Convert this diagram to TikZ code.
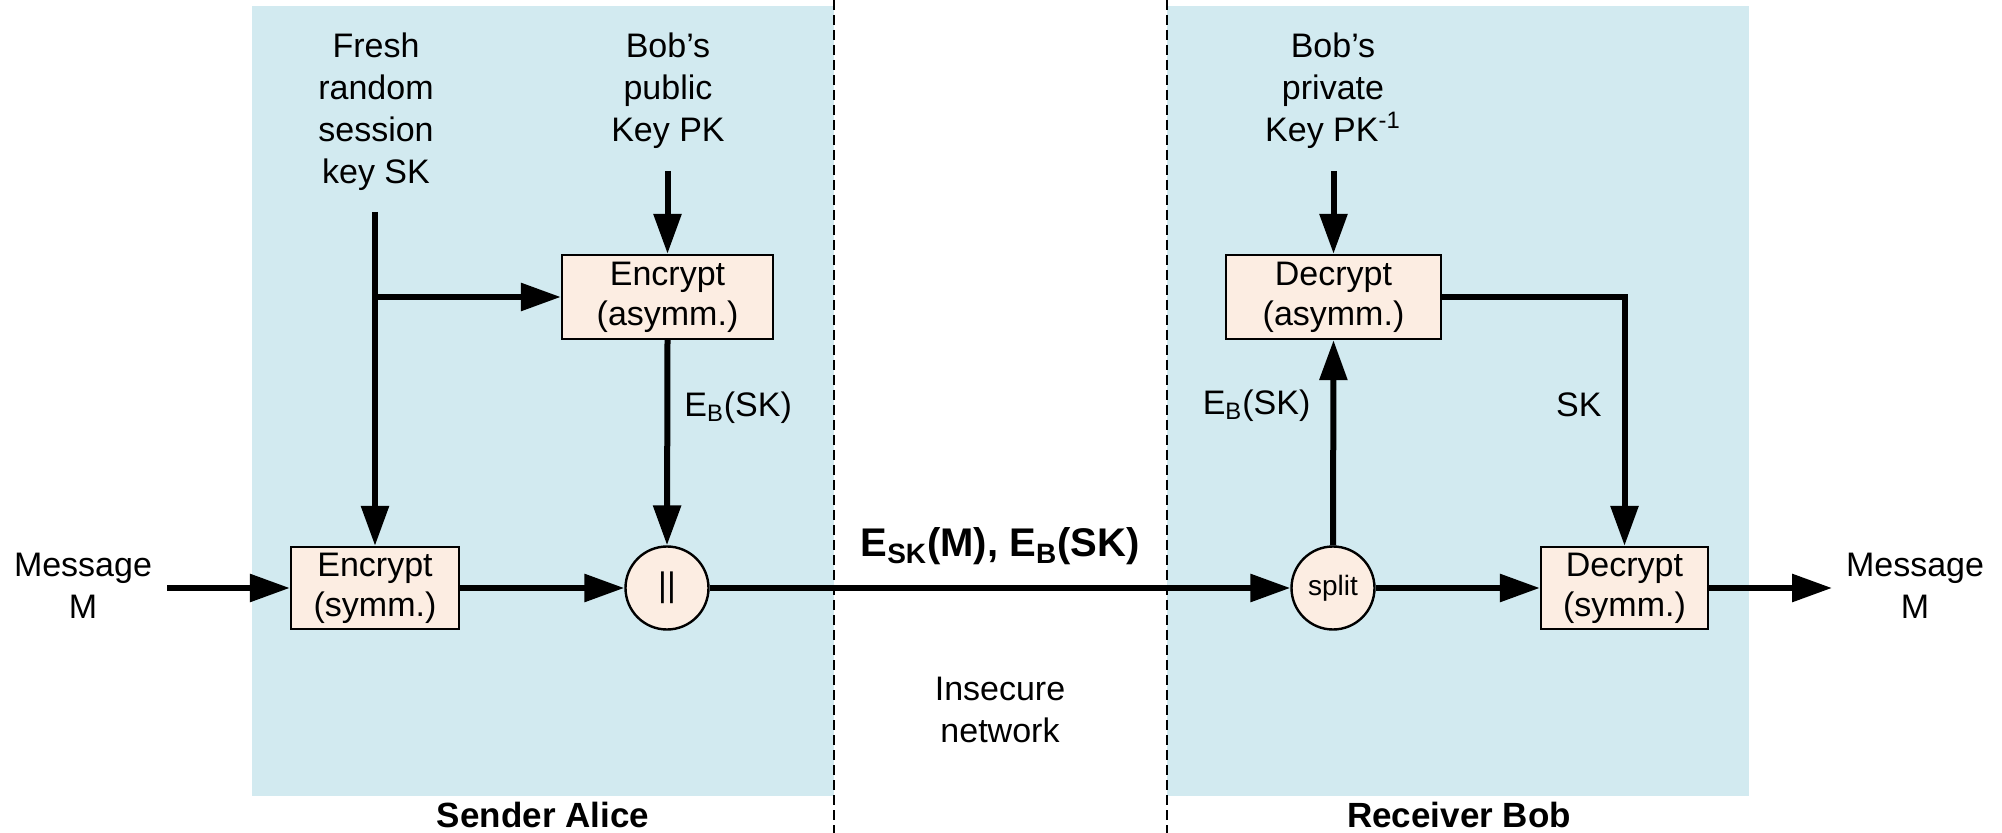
\documentclass[tikz,border=0pt]{standalone}
\usepackage{fontspec}
\setmainfont{Liberation Sans}
\usetikzlibrary{arrows.meta}
\definecolor{bgblue}{RGB}{210,234,240}
\definecolor{boxfill}{RGB}{252,237,226}
\begin{document}
\begin{tikzpicture}[x=0.5pt,y=-0.5pt,
  lbl/.style={font=\fontsize{17}{21}\selectfont, align=center, inner sep=0pt},
  boldlbl/.style={font=\bfseries\fontsize{17.5}{21}\selectfont, inner sep=0pt},
  proc/.style={draw, line width=1.2pt, fill=boxfill, inner sep=0pt, align=center,
    font=\fontsize{17}{20}\selectfont},
  op/.style={draw, line width=1.2pt, fill=boxfill, circle, inner sep=0pt, minimum size=41.5pt,
    font=\fontsize{17}{20}\selectfont},
  conn/.style={line width=3pt, -{Triangle[length=20pt,width=13.5pt]}},
  divider/.style={line width=1pt, dash pattern=on 5pt off 2.5pt}]
\useasboundingbox (0,0) rectangle (2002,833);
% backgrounds
\fill[bgblue] (252,6) rectangle (834,796);
\fill[bgblue] (1167,6) rectangle (1749,796);
\draw[divider] (834,0) -- (834,833);
\draw[divider] (1167,0) -- (1167,833);

% text labels
\node[lbl, anchor=north] (fresh) at (376,32) {Fresh\\random\\session\\key SK};
\node[lbl, anchor=north] (pub) at (668,32) {Bob’s\\public\\Key PK};
\node[lbl, anchor=north] (priv) at (1333,32) {Bob’s\\private\\Key PK\textsuperscript{-1}};
\node[lbl, anchor=north] (msgin) at (83,553) {Message\\M};
\node[lbl, anchor=north] (msgout) at (1915,553) {Message\\M};
\node[lbl, anchor=north] (net) at (1000,677) {Insecure\\network};
\node[boldlbl, anchor=base] (alice) at (543,827) {Sender Alice};
\node[boldlbl, anchor=base] (bob) at (1459,827) {Receiver Bob};

% process nodes
\node[proc, minimum width=105.5pt, minimum height=42pt] (encA) at (667.5,297) {Encrypt\\(asymm.)};
\node[proc, minimum width=84pt, minimum height=41pt] (encS) at (375,588) {Encrypt\\(symm.)};
\node[op] (concat) at (667,588) {||};
\node[op, font=\fontsize{14}{16}\selectfont] (split) at (1333,588) {split};
\node[proc, minimum width=107.5pt, minimum height=42pt] (decA) at (1333.5,297) {Decrypt\\(asymm.)};
\node[proc, minimum width=83.5pt, minimum height=41pt] (decS) at (1624.5,588) {Decrypt\\(symm.)};

% coordinates
\coordinate (skstart) at (375,212);
\coordinate (fork) at (375,297);
\coordinate (pkstart) at (667.5,171);
\coordinate (privstart) at (1333.5,171);
\coordinate (msgstart) at (167,588);
\coordinate (msgend) at (1832,588);

% connectors
\draw[conn] (msgstart) -- (encS.west);
\draw[conn] (skstart) -- (encS.north);
\draw[conn] (fork) -- (encA.west);
\draw[conn] (pkstart) -- (encA.north);
\draw[conn] (encA.south) -- node[lbl, pos=0.33, anchor=west, xshift=7pt] {E\textsubscript{B}(SK)} (concat.north);
\draw[conn] (encS.east) -- (concat.west);
\draw[conn] (concat.east) -- node[boldlbl, font=\bfseries\fontsize{20}{23}\selectfont, anchor=base, yshift=15.5pt] {E\textsubscript{SK}(M), E\textsubscript{B}(SK)} (split.west);
\draw[conn] (split.north) -- node[lbl, pos=0.68, anchor=east, xshift=-10pt] {E\textsubscript{B}(SK)} (decA.south);
\draw[conn] (privstart) -- (decA.north);
\draw[conn] (decA.east) -| node[lbl, pos=0.716, anchor=east, xshift=-10pt] {SK} (decS.north);
\draw[conn] (split.east) -- (decS.west);
\draw[conn] (decS.east) -- (msgend);
\end{tikzpicture}
\end{document}
